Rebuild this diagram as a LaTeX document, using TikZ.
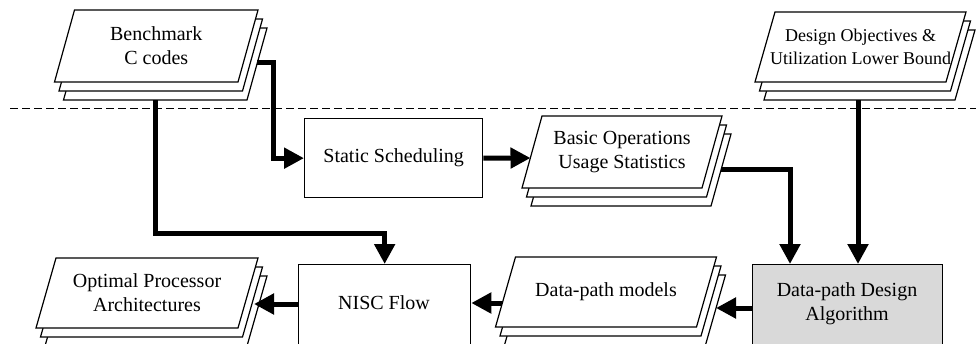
\documentclass[tikz,border=0pt]{standalone}
\usepackage{fontspec}
\setmainfont{Liberation Serif}
\usetikzlibrary{arrows.meta,calc}
\tikzset{
  docshape/.style={draw=black, fill=white, line width=1.2pt, line join=miter},
  box/.style={draw=black, line width=1.3pt, inner sep=0pt},
  txt/.style={align=center, font=\fontsize{20}{24}\selectfont, inner sep=0pt},
  smalltxt/.style={align=center, font=\fontsize{18}{23}\selectfont, inner sep=0pt},
  conn/.style={line width=5pt, line join=miter, -{Triangle[length=20pt,width=20pt]}},
}
% one parallelogram: cx, cy, w, h, layer
\newcommand\myparal[5]{%
  \draw[docshape, shift={(#5*4.5,#5*9)}]
    (#1-#3/2+10,#2-#4/2) -- (#1+#3/2+10,#2-#4/2) --
    (#1+#3/2-10,#2+#4/2) -- (#1-#3/2-10,#2+#4/2) -- cycle;}
% stack: name, cx, cy, w, h, text, style
\newcommand\mydocstack[7]{%
  \foreach \k in {2,1,0}{\myparal{#2}{#3}{#4}{#5}{\k}}
  \node[#7] (#1) at (#2,#3) {#6};}
\begin{document}
\begin{tikzpicture}[x=1pt,y=-1pt]
\useasboundingbox (0,0) rectangle (976,343);
\clip (0,0) rectangle (976,343);

% dashed separator
\draw[line width=0.9pt, dash pattern=on 8pt off 4pt] (10,108) -- (976,108);

% document stacks
\mydocstack{bench}{156.25}{46}{183.5}{72}{Benchmark\\C codes}{txt}
\mydocstack{design}{860.5}{47}{191}{70}{Design Objectives \&\\Utilization Lower Bound}{smalltxt}
\mydocstack{basic}{622}{152}{180}{72}{Basic Operations\\Usage Statistics}{txt}
\mydocstack{opt}{147}{293}{202}{70}{Optimal Processor\\Architectures}{txt}
\mydocstack{models}{606}{292}{201}{70}{Data-path models}{txt}

% process boxes
\node[box, txt, minimum width=178pt, minimum height=79pt, anchor=north west] (ss) at (304,118) {Static Scheduling};
\node[box, minimum width=172pt, minimum height=110pt, anchor=north west] (nisc) at (298,264) {};
\node[txt] (niscT) at (384,303) {NISC Flow};
\node[box, fill=gray!30, minimum width=190pt, minimum height=110pt, anchor=north west] (dpda) at (752,264) {};
\node[txt] (dpdaT) at (847,303.5) {Data-path Design\\Algorithm};

% connector ends on the stacks
\coordinate (benchR) at (257,62);
\coordinate (benchB) at (155,100);
\coordinate (basicL) at (530.5,158);
\coordinate (basicR) at (721,169);
\coordinate (designB) at (858,100);
\coordinate (modelsR) at (716,308);
\coordinate (modelsL) at (502,303);
\coordinate (optR) at (254,304);
\coordinate (dpdaIn1) at ($(dpda.north west)+(38,0)$);
\coordinate (dpdaOut) at ($(dpda.north west)+(0,44)$);

% connectors
\draw[conn] (benchR) -- ++(16,0) |- (ss.west);
\draw[conn] (benchB) -- ++(0,133) -| (nisc.north);
\draw[conn] (ss.east) -- (basicL);
\draw[conn] (basicR) -| (dpdaIn1);
\draw[conn] (designB) -- (designB |- dpda.north);
\draw[conn] (dpdaOut) -- (modelsR);
\draw[conn] (modelsL) -- (modelsL -| nisc.east);
\draw[conn] (optR -| nisc.west) -- (optR);
\end{tikzpicture}
\end{document}
